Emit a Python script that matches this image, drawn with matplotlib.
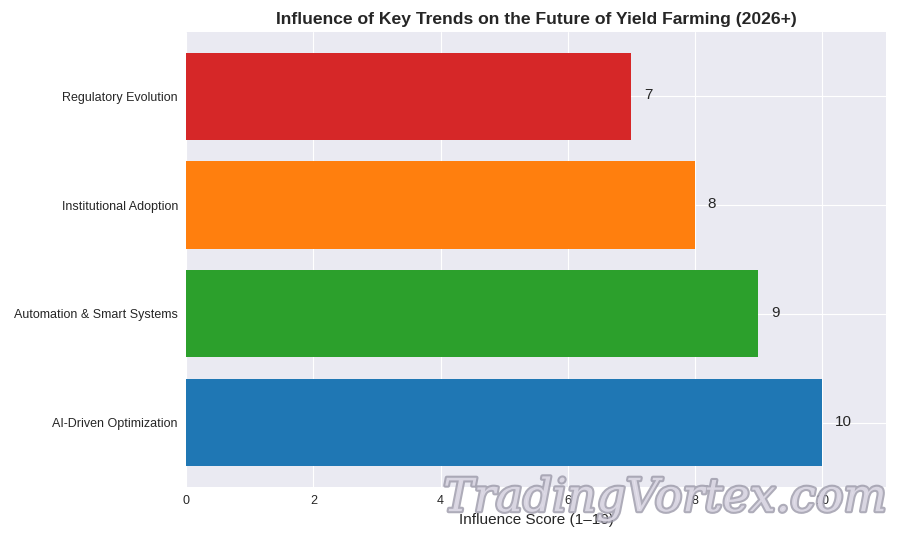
import matplotlib.pyplot as plt
import matplotlib.patheffects as pe

trends = ['AI-Driven Optimization', 'Automation & Smart Systems',
          'Institutional Adoption', 'Regulatory Evolution']
scores = [10, 9, 8, 7]
colors = ['#1f77b4', '#2ca02c', '#ff7f0e', '#d62728']

plt.style.use('seaborn-v0_8-darkgrid')
plt.rcParams['font.family'] = ['Liberation Sans', 'DejaVu Sans']

fig, ax = plt.subplots(figsize=(9, 5.4), dpi=100)
fig.subplots_adjust(left=0.207, right=0.984, top=0.941, bottom=0.098)

ax.barh(trends, scores, color=colors)
for i, v in enumerate(scores):
    ax.text(v + 0.2, i + 0.01, str(v), va='center', fontsize=11)

ax.set_xlim(0, 11)
ax.set_title("Influence of Key Trends on the Future of Yield Farming (2026+)",
             fontsize=12.6, fontweight='bold')
ax.set_xlabel("Influence Score (1\u201310)", fontsize=11, labelpad=4)
ax.tick_params(axis='y', labelsize=9, pad=6)
ax.tick_params(axis='x', labelsize=9, pad=6)

# watermark
wm = fig.text(0.739, 0.077, "TradingVortex.com", fontsize=33, family='DejaVu Serif',
              style='italic', color='#e6e2ee', alpha=0.8,
              ha='center', va='center')
wm.set_path_effects([pe.withStroke(linewidth=3, foreground='#9a98a8')])

plt.savefig('out.png')
